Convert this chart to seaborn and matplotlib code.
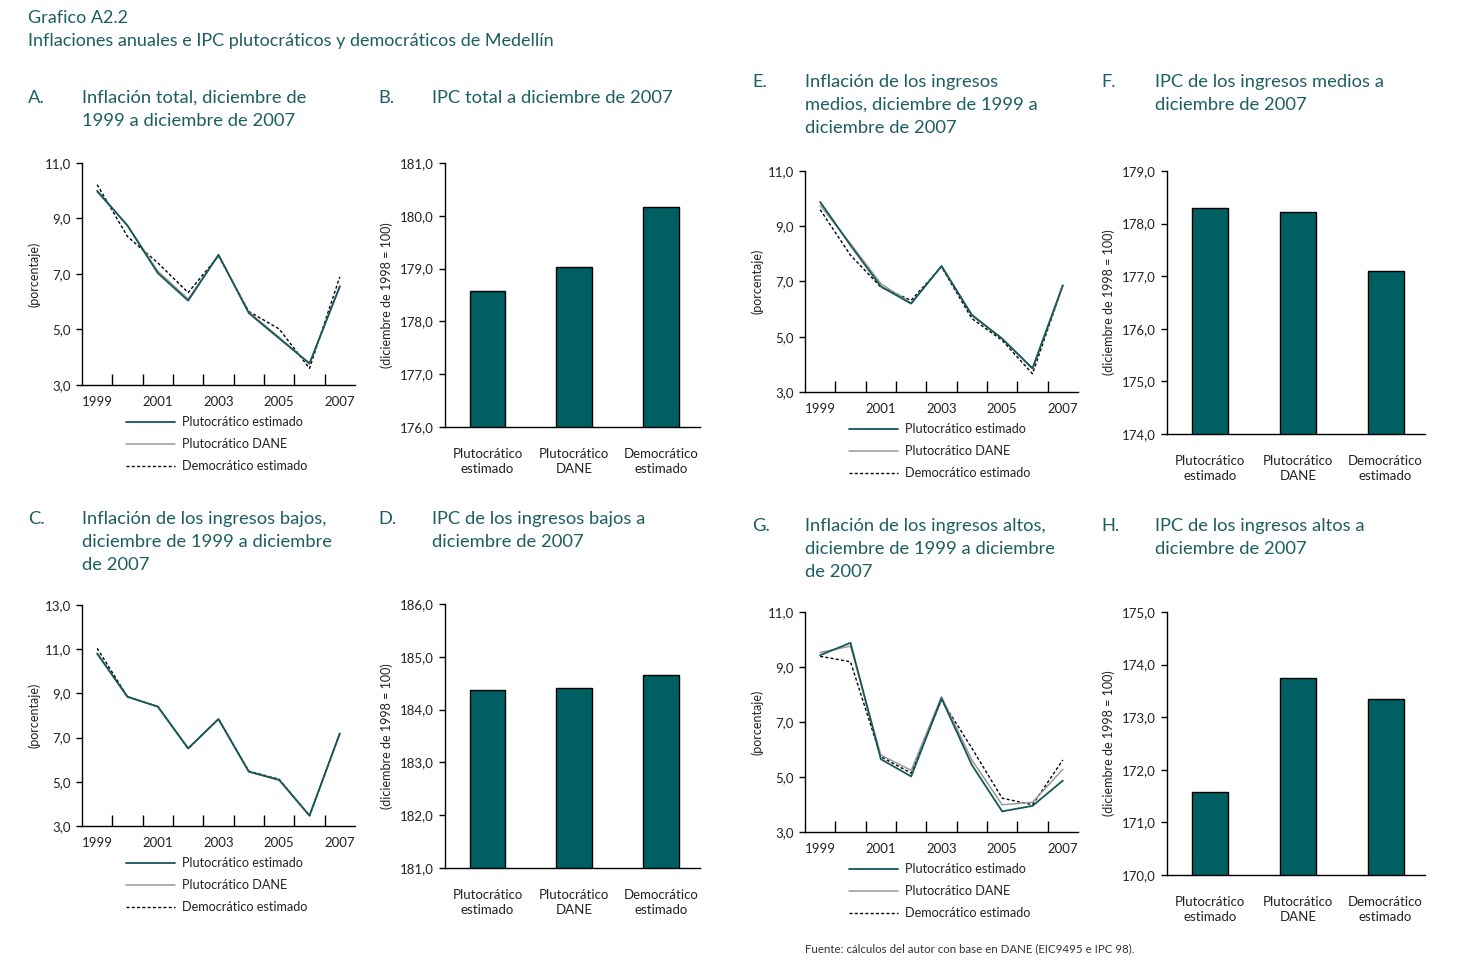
import numpy as np
import pandas as pd
import seaborn as sns
import matplotlib.pyplot as plt
from matplotlib.ticker import FixedLocator, FuncFormatter

sns.set_theme(style="white")
plt.rcParams['font.family'] = ['Lato', 'DejaVu Sans']

W, H = 1461, 980
TEAL = "#005f63"
TXT = "#1d5e62"

# datos
years = [1999, 2000, 2001, 2002, 2003, 2004, 2005, 2006, 2007]
series_names = ["Plutocrático estimado", "Plutocrático DANE", "Democrático estimado"]

# A. inflacion total
a_pluto = [10.00, 8.74, 7.03, 6.04, 7.69, 5.59, 4.68, 3.78, 6.55]
a_dane = [9.95, 8.76, 7.10, 6.10, 7.69, 5.62, 4.72, 3.75, 6.58]
a_demo = [10.22, 8.35, 7.40, 6.33, 7.65, 5.65, 5.02, 3.60, 6.90]

# C. ingresos bajos
c_pluto = [10.81, 8.85, 8.40, 6.51, 7.84, 5.46, 5.08, 3.47, 7.19]
c_dane = [10.78, 8.83, 8.41, 6.52, 7.83, 5.45, 5.10, 3.48, 7.18]
c_demo = [11.04, 8.85, 8.40, 6.50, 7.84, 5.48, 5.12, 3.46, 7.20]

# E. ingresos medios
e_pluto = [9.88, 8.31, 6.82, 6.20, 7.56, 5.78, 4.93, 3.85, 6.86]
e_dane = [9.76, 8.37, 6.92, 6.22, 7.56, 5.81, 4.93, 3.87, 6.86]
e_demo = [9.60, 7.95, 6.80, 6.32, 7.53, 5.66, 4.87, 3.66, 6.86]

# G. ingresos altos
g_pluto = [9.43, 9.88, 5.65, 5.02, 7.86, 5.44, 3.75, 3.95, 4.87]
g_dane = [9.53, 9.76, 5.80, 5.24, 7.92, 5.62, 3.99, 4.08, 5.28]
g_demo = [9.39, 9.19, 5.74, 5.14, 7.80, 6.05, 4.23, 3.99, 5.62]

# IPC a diciembre de 2007 (diciembre de 1998 = 100)
bar_labels = ["Plutocrático\nestimado", "Plutocrático\nDANE", "Democrático\nestimado"]
b_vals = [178.57, 179.03, 180.17]
d_vals = [184.37, 184.40, 184.65]
f_vals = [178.30, 178.23, 177.09]
h_vals = [171.57, 173.74, 173.34]


def coma(v, pos=None):
    return f"{v:.1f}".replace(".", ",")


def add_ax(l, t, r, b):
    return fig.add_axes([l / W, 1 - b / H, (r - l) / W, (b - t) / H])


def style_axes(ax):
    sns.despine(ax=ax)
    for s in ["left", "bottom"]:
        ax.spines[s].set_color("black")
        ax.spines[s].set_linewidth(1.0)
    ax.tick_params(axis="y", direction="out", length=4, width=1, color="black",
                   labelsize=9.5, labelcolor="#222222", pad=4, left=True)
    ax.yaxis.set_major_formatter(FuncFormatter(coma))


def line_panel(box, pluto, dane, demo, ymin, ymax):
    ax = add_ax(*box)
    sns.lineplot(x=years, y=demo, ax=ax, color="black", linewidth=1.0,
                 linestyle=(0, (2.2, 1.6)), label=series_names[2])
    sns.lineplot(x=years, y=dane, ax=ax, color="#9a9a9a", linewidth=1.1,
                 label=series_names[1])
    sns.lineplot(x=years, y=pluto, ax=ax, color="#15575a", linewidth=1.3,
                 label=series_names[0])
    ax.set_xlim(1998.5, 2007.5)
    ax.set_ylim(ymin, ymax)
    ax.set_yticks(np.arange(ymin, ymax + 0.1, 2))
    style_axes(ax)
    ax.set_xticks([1999, 2001, 2003, 2005, 2007])
    ax.set_xticklabels([str(y) for y in [1999, 2001, 2003, 2005, 2007]])
    ax.xaxis.set_minor_locator(FixedLocator(np.arange(1999.5, 2007.0, 1)))
    ax.tick_params(axis="x", which="major", length=0, labelsize=9.5,
                   labelcolor="#222222", pad=8)
    ax.tick_params(axis="x", which="minor", direction="in", length=8, width=1,
                   color="black", bottom=True)
    ax.set_ylabel("(porcentaje)", fontsize=9, color="#222222", labelpad=3)
    ax.set_xlabel("")
    h, l = ax.get_legend_handles_labels()
    order = [2, 1, 0]
    axw = box[2] - box[0]
    axh = box[3] - box[1]
    ax.legend([h[i] for i in order], [l[i] for i in order],
              loc="upper left", bbox_to_anchor=(44 / axw, -31 / axh),
              frameon=False, fontsize=9.1, handlelength=3.9, handletextpad=0.5,
              labelspacing=0.8, borderpad=0, borderaxespad=0,
              labelcolor="#222222")
    return ax


def bar_panel(box, vals, ymin, ymax):
    ax = add_ax(*box)
    df = pd.DataFrame({"serie": bar_labels, "ipc": vals})
    sns.barplot(data=df, x="serie", y="ipc", ax=ax, color=TEAL, saturation=1,
                edgecolor="black", linewidth=1.0, width=0.41)
    ax.set_xlim(-0.49, 2.45)
    ax.set_ylim(ymin, ymax)
    ax.set_yticks(np.arange(ymin, ymax + 0.1, 1))
    style_axes(ax)
    ax.tick_params(axis="x", length=0, labelsize=9.5, labelcolor="#222222", pad=15)
    for t in ax.get_xticklabels():
        t.set_linespacing(1.3)
    ax.set_xlabel("")
    ax.set_ylabel("(diciembre de 1998 = 100)", fontsize=9, color="#222222",
                  labelpad=5)
    return ax


fig = plt.figure(figsize=(W / 100, H / 100), dpi=100)

line_panel((82, 163, 355, 385), a_pluto, a_dane, a_demo, 3, 11)
line_panel((82, 605, 355, 826), c_pluto, c_dane, c_demo, 3, 13)
line_panel((805, 171, 1078, 392), e_pluto, e_dane, e_demo, 3, 11)
line_panel((805, 612, 1078, 832), g_pluto, g_dane, g_demo, 3, 11)

bar_panel((445, 163, 700, 427), b_vals, 176, 181)
bar_panel((445, 604, 700, 868), d_vals, 181, 186)
bar_panel((1167, 171, 1425, 434), f_vals, 174, 179)
bar_panel((1167, 612, 1425, 875), h_vals, 170, 175)


def ftext(x, y, s, size=13.2, **kw):
    fig.text(x / W, 1 - y / H, s, fontsize=size, color=TXT, va="center",
             ha="left", **kw)


ftext(28, 18, "Grafico A2.2", size=13)
ftext(28, 41, "Inflaciones anuales e IPC plutocráticos y democráticos de Medellín", size=13)

titles = [
    (28, 82, 98, "A.", ["Inflación total, diciembre de", "1999 a diciembre de 2007"]),
    (378, 432, 98, "B.", ["IPC total a diciembre de 2007"]),
    (752, 805, 82, "E.", ["Inflación de los ingresos", "medios, diciembre de 1999 a",
                          "diciembre de 2007"]),
    (1101, 1155, 82, "F.", ["IPC de los ingresos medios a", "diciembre de 2007"]),
    (28, 82, 519, "C.", ["Inflación de los ingresos bajos,",
                         "diciembre de 1999 a diciembre", "de 2007"]),
    (378, 432, 519, "D.", ["IPC de los ingresos bajos a", "diciembre de 2007"]),
    (752, 805, 526, "G.", ["Inflación de los ingresos altos,",
                           "diciembre de 1999 a diciembre", "de 2007"]),
    (1101, 1155, 526, "H.", ["IPC de los ingresos altos a", "diciembre de 2007"]),
]
for xl, xt, y0, letra, lineas in titles:
    ftext(xl, y0, letra)
    for i, ln in enumerate(lineas):
        ftext(xt, y0 + i * 23, ln)

fig.text(805 / W, 1 - 949 / H, "Fuente: cálculos del autor con base en DANE (EIC9495 e IPC 98).",
         fontsize=8.3, color="#333333", va="center", ha="left")

fig.savefig("out.png", dpi=100)
